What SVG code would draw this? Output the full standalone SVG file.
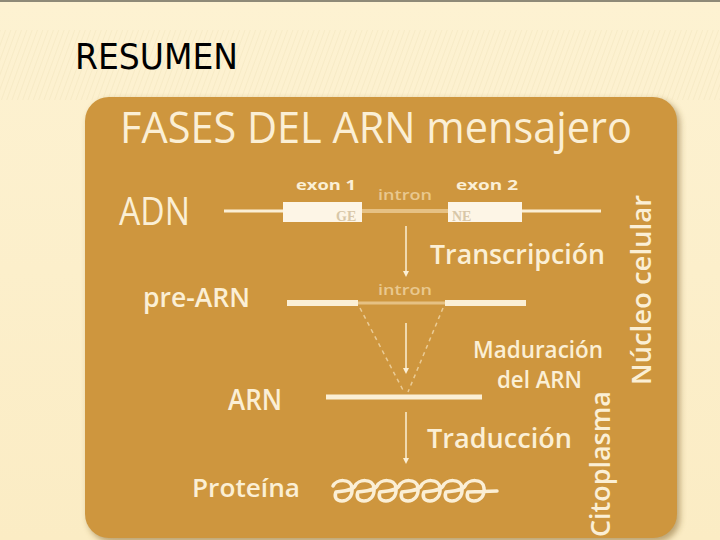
<svg xmlns="http://www.w3.org/2000/svg" width="720" height="540" viewBox="0 0 720 540">
<defs>
<linearGradient id="bg" x1="0" y1="0" x2="0" y2="1">
<stop offset="0" stop-color="#FDF2D2"/>
<stop offset="1" stop-color="#FBECC4"/>
</linearGradient>
<pattern id="hatch" width="5" height="5" patternUnits="userSpaceOnUse" patternTransform="rotate(20)">
<line x1="0" y1="0" x2="0" y2="5" stroke="#EADBB0" stroke-width="1"/>
</pattern>
<linearGradient id="ln" x1="0" y1="0" x2="1" y2="0">
<stop offset="0" stop-color="#E2B54E" stop-opacity="0"/>
<stop offset="0.15" stop-color="#E2B54E" stop-opacity="1"/>
<stop offset="1" stop-color="#E2B54E" stop-opacity="1"/>
</linearGradient>
<marker id="arr" markerWidth="6" markerHeight="6" refX="3" refY="3" orient="auto" markerUnits="userSpaceOnUse">
<path d="M0,0 L6,3 L0,6 Z" fill="#FBEFD5"/>
</marker>
<filter id="sh" x="-5%" y="-5%" width="110%" height="110%">
<feGaussianBlur stdDeviation="3"/>
</filter>
</defs>
<style>
.t{font-family:"Open Sans","Noto Sans","Liberation Sans",sans-serif;fill:#FBEFD5;font-weight:600}
.r{font-weight:400}
.x{font-weight:700}
.b{stroke:#FBEFD5;fill:none}
.i{stroke:#E6C184;fill:none}
</style>
<rect width="720" height="540" fill="url(#bg)"/>
<rect x="0" y="30" width="720" height="70" fill="url(#hatch)" opacity="0.6"/>
<rect x="0" y="0" width="720" height="2" fill="#8E8A78"/>
<line x1="30" y1="82" x2="720" y2="82" stroke="url(#ln)" stroke-width="1.5"/>
<text x="75" y="69" font-family="'DejaVu Sans Condensed','Liberation Sans',sans-serif" font-size="35" fill="#000" textLength="163" lengthAdjust="spacingAndGlyphs">RESUMEN</text>

<g id="panel">
<rect x="88" y="100" width="592" height="442" rx="24" fill="#7A5A20" opacity="0.5" filter="url(#sh)"/>
<rect x="85" y="97" width="592" height="441" rx="24" fill="#CE963E"/>
<text class="t r" x="120" y="143" font-size="44" textLength="512" lengthAdjust="spacingAndGlyphs">FASES DEL ARN mensajero</text>
</g>

<g id="adn">
<text class="t r" x="119" y="225" font-size="38" textLength="71" lengthAdjust="spacingAndGlyphs">ADN</text>
<line class="b" x1="224" y1="211" x2="283" y2="211" stroke-width="3"/>
<line class="b" x1="522" y1="211" x2="601" y2="211" stroke-width="3"/>
<line class="i" x1="362" y1="211" x2="448" y2="211" stroke-width="4"/>
<rect x="283" y="202" width="79" height="20" fill="#FDF5E6"/>
<rect x="448" y="202" width="74" height="20" fill="#FDF5E6"/>
<text x="336" y="221" font-family="'Liberation Serif',serif" font-weight="bold" font-size="14" fill="#D8C7A8">GE</text>
<text x="452" y="221" font-family="'Liberation Serif',serif" font-weight="bold" font-size="14" fill="#D8C7A8">NE</text>
<text class="t x" x="296" y="190" font-size="14" textLength="60" lengthAdjust="spacingAndGlyphs">exon 1</text>
<text class="t x" x="456" y="190" font-size="14" textLength="62" lengthAdjust="spacingAndGlyphs">exon 2</text>
<text x="378" y="200" font-family="'Open Sans','Liberation Sans',sans-serif" font-size="15" font-weight="600" fill="#E9C88E" textLength="54" lengthAdjust="spacingAndGlyphs">intron</text>
</g>

<g id="prearn">
<text class="t" x="143" y="307" font-size="27" textLength="107" lengthAdjust="spacingAndGlyphs">pre-ARN</text>
<line class="b" x1="287" y1="303" x2="358" y2="303" stroke-width="6"/>
<line class="i" x1="358" y1="303" x2="445" y2="303" stroke-width="3"/>
<line class="b" x1="445" y1="303" x2="526" y2="303" stroke-width="6"/>
<text x="378" y="295" font-family="'Open Sans','Liberation Sans',sans-serif" font-size="15" font-weight="600" fill="#E9C88E" textLength="54" lengthAdjust="spacingAndGlyphs">intron</text>
</g>

<g id="arn">
<text class="t" x="228" y="410" font-size="29" textLength="54" lengthAdjust="spacingAndGlyphs">ARN</text>
<line class="b" x1="326" y1="397" x2="482" y2="397" stroke-width="5"/>
</g>

<g id="proteina">
<text class="t" x="192" y="497" font-size="25" textLength="108" lengthAdjust="spacingAndGlyphs">Proteína</text>
<path class="b" stroke-width="3.5" stroke-linecap="round" stroke-linejoin="round" d="M333,486 C336,479 351,478 352,488 C353,497 347,501 342,501 C336,501 334,497 336,492 C343,491 352,491 355,486 C358,479 373,478 374,488 C375,497 369,501 364,501 C358,501 356,497 358,492 C365,491 374,491 377,486 C380,479 395,478 396,488 C397,497 391,501 386,501 C380,501 378,497 380,492 C387,491 396,491 399,486 C402,479 417,478 418,488 C419,497 413,501 408,501 C402,501 400,497 402,492 C409,491 418,491 421,486 C424,479 439,478 440,488 C441,497 435,501 430,501 C424,501 422,497 424,492 C431,491 440,491 443,486 C446,479 461,478 462,488 C463,497 457,501 452,501 C446,501 444,497 446,492 C453,491 462,491 465,486 C468,479 483,478 484,488 C485,497 479,501 474,501 C468,501 466,497 468,492 L497,491"/>
</g>

<g id="labels">
<text class="t" x="430" y="264" font-size="27" textLength="175" lengthAdjust="spacingAndGlyphs">Transcripción</text>
<text class="t" x="473" y="358" font-size="24" textLength="130" lengthAdjust="spacingAndGlyphs">Maduración</text>
<text class="t" x="497" y="388" font-size="24" textLength="85" lengthAdjust="spacingAndGlyphs">del ARN</text>
<text class="t" x="427" y="448" font-size="27" textLength="145" lengthAdjust="spacingAndGlyphs">Traducción</text>
<text class="t" transform="translate(651,385) rotate(-90)" font-size="27" textLength="190" lengthAdjust="spacingAndGlyphs">Núcleo celular</text>
<text class="t" transform="translate(610,537) rotate(-90)" font-size="27" textLength="146" lengthAdjust="spacingAndGlyphs">Citoplasma</text>
</g>

<g id="connectors">
<line class="b" x1="406" y1="226" x2="406" y2="274" stroke-width="1.5" marker-end="url(#arr)"/>
<line class="b" x1="406" y1="323" x2="406" y2="371" stroke-width="1.5" marker-end="url(#arr)"/>
<line class="b" x1="406" y1="412" x2="406" y2="461" stroke-width="1.5" marker-end="url(#arr)"/>
<line x1="360" y1="308" x2="404" y2="392" stroke="#EACB95" stroke-width="1.5" stroke-dasharray="4,4"/>
<line x1="443" y1="308" x2="408" y2="392" stroke="#EACB95" stroke-width="1.5" stroke-dasharray="4,4"/>
</g>
</svg>
